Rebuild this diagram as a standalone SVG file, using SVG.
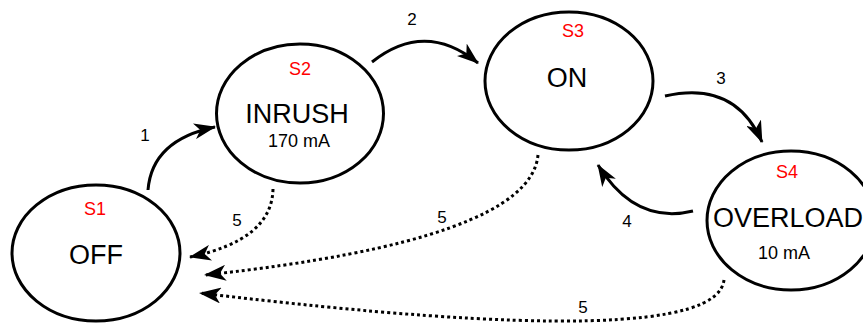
<svg xmlns="http://www.w3.org/2000/svg" width="863" height="323" viewBox="0 0 863 323">
<defs>
<style>
.st{fill:#fff;stroke:#000;stroke-width:3}
.t{font-family:"Liberation Sans",Arial,sans-serif;text-anchor:middle;fill:#000}
.big{font-size:27px}
.sm{font-size:18px}
.id{font-size:18px;fill:#ff0000}
.lbl{font-size:17px}
.c{fill:none;stroke:#000;stroke-width:3}
.d{fill:none;stroke:#000;stroke-width:3;stroke-dasharray:3 3}
</style>
<marker id="ah" viewBox="0 0 22 16" refX="21" refY="8" markerWidth="22" markerHeight="16" markerUnits="userSpaceOnUse" orient="auto">
<path d="M0,0 L22,8 L0,16 L6,8 Z" fill="#000"/>
</marker>
</defs>
<rect width="863" height="323" fill="#fff"/>
<g id="connectors">
<path class="c" d="M148,190 Q152,140 215,127" marker-end="url(#ah)"/>
<path class="c" d="M372,62 Q425,20 478,63" marker-end="url(#ah)"/>
<path class="c" d="M665,96 Q735,80 762,142" marker-end="url(#ah)"/>
<path class="c" d="M693,211 Q635,225 598,165" marker-end="url(#ah)"/>
<path class="d" d="M273,189 Q272,240 190,257" marker-end="url(#ah)"/>
<path class="d" d="M538,155 Q530,240 205,275" marker-end="url(#ah)"/>
<path class="d" d="M724,280 Q715,355 200,293" marker-end="url(#ah)"/>
<text class="t lbl" x="145" y="141">1</text>
<text class="t lbl" x="412" y="25">2</text>
<text class="t lbl" x="721" y="84">3</text>
<text class="t lbl" x="627" y="227">4</text>
<text class="t lbl" x="237" y="226">5</text>
<text class="t lbl" x="442" y="223">5</text>
<text class="t lbl" x="583" y="313">5</text>
</g>
<g id="S1">
<ellipse class="st" cx="96" cy="253" rx="84" ry="68"/>
<text class="t id" x="95" y="215">S1</text>
<text class="t big" x="96" y="264">OFF</text>
</g>
<g id="S2">
<ellipse class="st" cx="300" cy="113.5" rx="83.5" ry="69.5"/>
<text class="t id" x="300" y="75">S2</text>
<text class="t big" x="297" y="123">INRUSH</text>
<text class="t sm" x="299" y="147">170 mA</text>
</g>
<g id="S3">
<ellipse class="st" cx="569" cy="81" rx="84" ry="69"/>
<text class="t id" x="573" y="37">S3</text>
<text class="t big" x="567" y="87">ON</text>
</g>
<g id="S4">
<ellipse class="st" cx="791" cy="220.5" rx="84" ry="69.5"/>
<text class="t id" x="787" y="178">S4</text>
<text class="t big" x="788" y="227">OVERLOAD</text>
<text class="t sm" x="784" y="259">10 mA</text>
</g>
</svg>
